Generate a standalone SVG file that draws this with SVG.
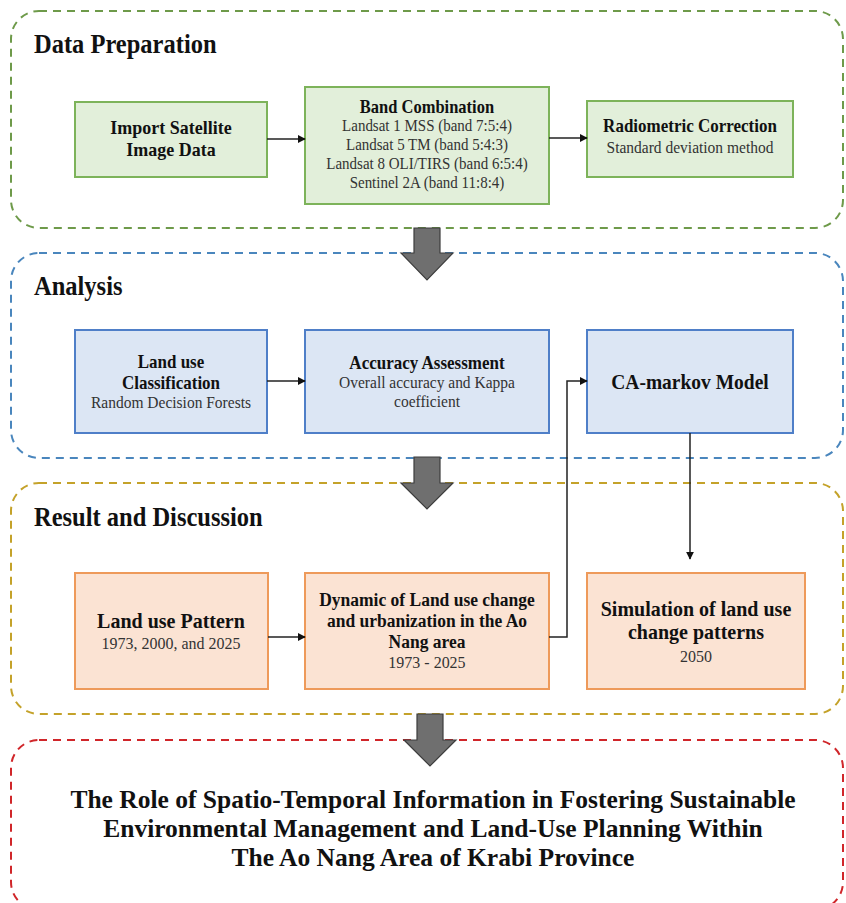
<svg xmlns="http://www.w3.org/2000/svg" width="846" height="903" viewBox="0 0 846 903">
<defs>
<style>
text{font-family:"Liberation Serif","Times New Roman",serif;fill:#111;transform-box:fill-box;transform-origin:center;transform:scaleY(1.1);}
.hd{font-size:24.5px;font-weight:bold;}
.b{font-weight:bold;text-anchor:middle;}
.r{text-anchor:middle;fill:#333;}
.c{transform:none;}
.cont{fill:none;stroke-width:2;stroke-dasharray:8 6;}
.g{fill:#e2efda;stroke:#7db35a;stroke-width:2;}
.bl{fill:#dce6f4;stroke:#4f7fc8;stroke-width:2;}
.o{fill:#fbe3d3;stroke:#ee9a5a;stroke-width:2;}
.big{fill:#6f6f6f;stroke:#3d3d3d;stroke-width:1.2;}
.ln{fill:none;stroke:#222;stroke-width:1.5;}
</style>
<marker id="ah" viewBox="0 0 10 10" refX="9" refY="5" markerWidth="8" markerHeight="8" markerUnits="userSpaceOnUse" orient="auto"><path d="M0,0 L10,5 L0,10 z" fill="#111"/></marker>
</defs>

<g id="containers">
<rect class="cont" x="11" y="11" width="832" height="217" rx="28" stroke="#6e9a4a"/>
<rect class="cont" x="11" y="253" width="832" height="205" rx="28" stroke="#4a86bd"/>
<rect class="cont" x="11" y="483" width="832" height="231" rx="28" stroke="#c4a22a"/>
<rect class="cont" x="11" y="740" width="832" height="170" rx="28" stroke="#d0262a"/>
</g>

<g id="titles">
<text class="hd" x="34" y="52">Data Preparation</text>
<text class="hd" x="34" y="294">Analysis</text>
<text class="hd" x="34" y="525">Result and Discussion</text>
</g>

<g id="import">
<rect class="g" x="75" y="102" width="192" height="75"/>
<text class="b" x="171" y="133" font-size="18">Import Satellite</text>
<text class="b" x="171" y="155" font-size="18">Image Data</text>
</g>

<g id="band">
<rect class="g" x="305" y="87" width="244" height="117"/>
<text class="b" x="427" y="112" font-size="16.5">Band Combination</text>
<text class="r" x="427" y="131" font-size="15">Landsat 1 MSS (band 7:5:4)</text>
<text class="r" x="427" y="150" font-size="15">Landsat 5 TM (band 5:4:3)</text>
<text class="r" x="427" y="169" font-size="15">Landsat 8 OLI/TIRS (band 6:5:4)</text>
<text class="r" x="427" y="188" font-size="15">Sentinel 2A (band 11:8:4)</text>
</g>

<g id="radiometric">
<rect class="g" x="587" y="101" width="206" height="76"/>
<text class="b" x="690" y="131" font-size="17">Radiometric Correction</text>
<text class="r" x="690" y="152" font-size="15.5">Standard deviation method</text>
</g>

<g id="classification">
<rect class="bl" x="75" y="330" width="192" height="103"/>
<text class="b" x="171" y="367" font-size="17">Land use</text>
<text class="b" x="171" y="388" font-size="17">Classification</text>
<text class="r" x="171" y="407" font-size="15.5">Random Decision Forests</text>
</g>

<g id="accuracy">
<rect class="bl" x="305" y="330" width="244" height="103"/>
<text class="b" x="427" y="368" font-size="17">Accuracy Assessment</text>
<text class="r" x="427" y="387" font-size="15.5">Overall accuracy and Kappa</text>
<text class="r" x="427" y="406" font-size="15.5">coefficient</text>
</g>

<g id="camarkov">
<rect class="bl" x="587" y="330" width="206" height="103"/>
<text class="b" x="690" y="388" font-size="19.5">CA-markov Model</text>
</g>

<g id="pattern">
<rect class="o" x="75" y="573" width="193" height="116"/>
<text class="b" x="171" y="627" font-size="20">Land use Pattern</text>
<text class="r" x="171" y="648" font-size="16">1973, 2000, and 2025</text>
</g>

<g id="dynamic">
<rect class="o" x="305" y="573" width="244" height="116"/>
<text class="b" x="427" y="605" font-size="17.5">Dynamic of Land use change</text>
<text class="b" x="427" y="626" font-size="17.5">and urbanization in the Ao</text>
<text class="b" x="427" y="647" font-size="17.5">Nang area</text>
<text class="r" x="427" y="667" font-size="16">1973 - 2025</text>
</g>

<g id="simulation">
<rect class="o" x="587" y="573" width="218" height="116"/>
<text class="b" x="696" y="615" font-size="20">Simulation of land use</text>
<text class="b" x="696" y="638" font-size="20">change patterns</text>
<text class="r" x="696" y="661" font-size="16">2050</text>
</g>

<g id="conclusion">
<text class="b c" x="433" y="808" font-size="25.5">The Role of Spatio-Temporal Information in Fostering Sustainable</text>
<text class="b c" x="433" y="837" font-size="25.5">Environmental Management and Land-Use Planning Within</text>
<text class="b c" x="433" y="866" font-size="25.5">The Ao Nang Area of Krabi Province</text>
</g>

<g id="connectors">
<line class="ln" x1="267" y1="139" x2="305" y2="139" marker-end="url(#ah)"/>
<line class="ln" x1="549" y1="138" x2="587" y2="138" marker-end="url(#ah)"/>
<line class="ln" x1="267" y1="381" x2="305" y2="381" marker-end="url(#ah)"/>
<line class="ln" x1="268" y1="637" x2="305" y2="637" marker-end="url(#ah)"/>
<polyline class="ln" points="549,637 567,637 567,381 587,381" marker-end="url(#ah)"/>
<line class="ln" x1="690" y1="433" x2="690" y2="559" marker-end="url(#ah)"/>
<polygon class="big" points="414,228 440,228 440,253 453,253 427,280 401,253 414,253"/>
<polygon class="big" points="414,457 440,457 440,483 453,483 427,509 401,483 414,483"/>
<polygon class="big" points="417,714 443,714 443,740 456,740 430,766 404,740 417,740"/>
</g>
</svg>
